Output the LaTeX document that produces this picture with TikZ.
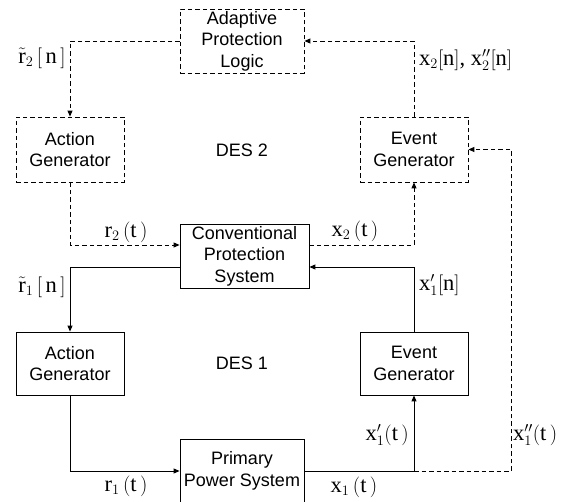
\documentclass[tikz,border=0pt]{standalone}
\usepackage{fontspec}
\setmainfont{Liberation Serif}
\setsansfont{Liberation Sans}
\setmathrm{Liberation Serif}
\DeclareMathSizes{22.5}{22.5}{13.5}{10}
\usetikzlibrary{arrows.meta}
\tikzset{
  blk/.style={draw, line width=0.8pt, font=\sffamily\fontsize{18}{21.5}\selectfont,
    align=center, inner sep=0pt, minimum height=64pt},
  dblk/.style={blk, dash pattern=on 4.5pt off 3pt},
  wire/.style={line width=0.85pt},
  dwire/.style={wire, dash pattern=on 4.5pt off 3pt},
  arr/.style={-{Triangle[length=6pt,width=5pt]}},
  lbl/.style={inner sep=0pt, font=\fontsize{22.5}{26}\selectfont},
  des/.style={inner sep=0pt, font=\sffamily\fontsize{18}{21.5}\selectfont},
}
\begin{document}
\begin{tikzpicture}[x=1pt,y=-1pt]
\clip (0,0) rectangle (576,502);
% blocks
\node[dblk, minimum width=124pt] (apl) at (242,41) {Adaptive\\Protection\\Logic};
\node[dblk, minimum width=108pt, minimum height=65pt] (ag2) at (70,149.5) {Action\\Generator};
\node[dblk, minimum width=108pt, minimum height=65pt] (eg2) at (414,149.5) {Event\\Generator};
\node[blk, minimum width=129pt] (cps) at (244.5,256) {Conventional\\Protection\\System};
\node[blk, minimum width=108pt, minimum height=63pt] (ag1) at (70,363.5) {Action\\Generator};
\node[blk, minimum width=108pt, minimum height=63pt] (eg1) at (414,363.5) {Event\\Generator};
\node[blk, minimum width=124pt] (pps) at (242,471) {Primary\\Power System};
\node[des] (d2) at (242,150) {DES 2};
\node[des] (d1) at (242,363) {DES 1};
% auxiliary points
\coordinate (jn) at (eg1.south |- pps.east);
\coordinate (rc) at (511,471);
% connectors
\draw[dwire,arr] (apl.west) -| (ag2.north);
\draw[dwire,arr] (eg2.north) |- (apl.east);
\draw[dwire,arr] (ag2.south) |- ([yshift=11pt]cps.west);
\draw[dwire,arr] ([yshift=11pt]cps.east) -| (eg2.south);
\draw[wire,arr] ([yshift=-11pt]cps.west) -| (ag1.north);
\draw[wire,arr] (eg1.north) |- ([yshift=-11pt]cps.east);
\draw[wire,arr] (ag1.south) |- (pps.west);
\draw[wire] (pps.east) -- (jn);
\draw[wire,arr] (jn) -- (eg1.south);
\draw[dwire] (jn) -- (rc);
\draw[dwire,arr] (rc) |- (eg2.east);
% labels
\node[lbl] (l1) at (42,58) {$\tilde{\mathrm{r}}_2\,[\,\mathrm{n}\,]$};
\node[lbl, anchor=west] (l2) at (419,60) {$\mathrm{x}_2[\mathrm{n}]$, $\mathrm{x}''_2[\mathrm{n}]$};
\node[lbl] (l3) at (126,232) {$\mathrm{r}_2\,(\mathrm{t}\,)$};
\node[lbl] (l4) at (355,231) {$\mathrm{x}_2\,(\mathrm{t}\,)$};
\node[lbl] (l5) at (42,287) {$\tilde{\mathrm{r}}_1\,[\,\mathrm{n}\,]$};
\node[lbl, anchor=west] (l6) at (419,285) {$\mathrm{x}'_1[\mathrm{n}]$};
\node[lbl] (l7) at (126,486) {$\mathrm{r}_1\,(\mathrm{t}\,)$};
\node[lbl] (l8) at (354,487) {$\mathrm{x}_1\,(\mathrm{t}\,)$};
\node[lbl, anchor=east] (l9) at (409,435) {$\mathrm{x}'_1(\mathrm{t}\,)$};
\node[lbl, anchor=west] (l10) at (513,435) {$\mathrm{x}''_1(\mathrm{t}\,)$};
\end{tikzpicture}
\end{document}
